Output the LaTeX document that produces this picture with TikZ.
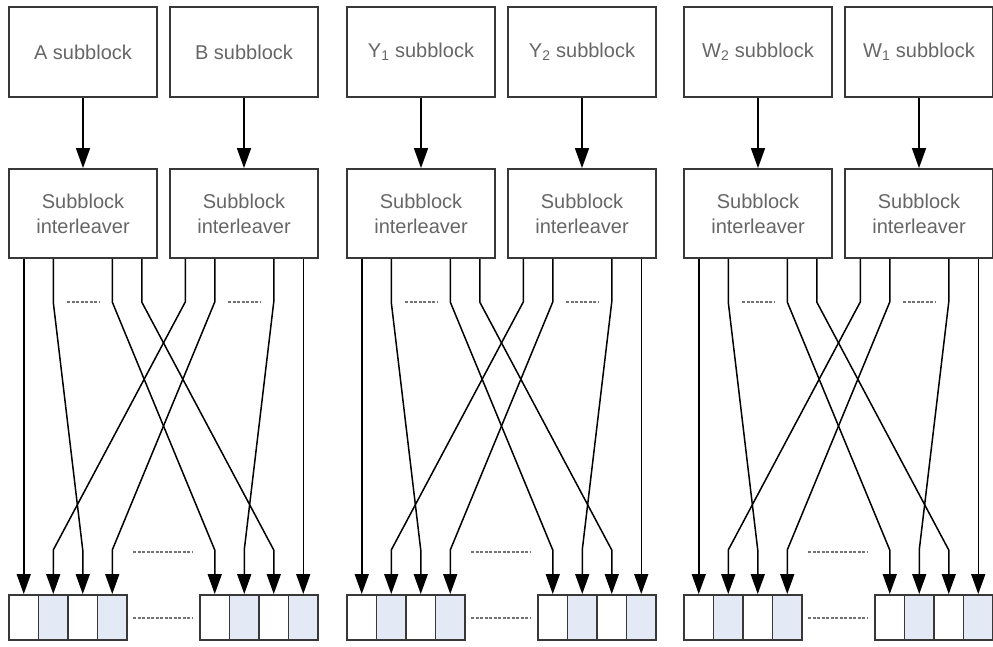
\documentclass[tikz,border=0pt]{standalone}
\usepackage{fontspec}
\setmainfont{Liberation Sans}
\usetikzlibrary{arrows.meta}
\definecolor{cellblue}{HTML}{E4EAF5}
\newcommand\labelfont{\fontsize{20}{25}\selectfont}
\begin{document}
\begin{tikzpicture}[x=1pt, y=-1pt,
		blockbox/.style={draw=black!78, line width=1.8pt, minimum width=148pt, minimum height=90pt, inner sep=0pt, align=center, text=black!60, font=\labelfont},
		cellbox/.style={draw=black!78, line width=1.9pt, minimum width=29.5pt, minimum height=45pt, inner sep=0pt},
		cellshade/.style={cellbox, fill=cellblue},
		link/.style={line width=1.5pt, -{Triangle[width=14pt,length=20pt]}},
		gap/.style={draw=black!55, line width=1.5pt, dash pattern=on 3pt off 1.5pt}]
		%%%%% START %%%%%
		
		\useasboundingbox (0,0) rectangle (993,646);
		
		\foreach \g/\dx/\la/\lb in {1/0/A/B, 2/338/Y\textsubscript{1}/Y\textsubscript{2}, 3/675/W\textsubscript{2}/W\textsubscript{1}}{
			\begin{scope}[xshift=\dx pt]
				\node[blockbox] (sa\g) at (83,52) {\la\ subblock};
				\node[blockbox] (sb\g) at (244,52) {\lb\ subblock};
				\node[blockbox, minimum height=89pt] (ia\g) at (83,213.5) {Subblock\\interleaver};
				\node[blockbox, minimum height=89pt] (ib\g) at (244,213.5) {Subblock\\interleaver};
				
				\draw[link] (sa\g.south) -- (ia\g.north);
				\draw[link] (sb\g.south) -- (ib\g.north);
				
				% output cells
				\foreach \k/\st in {1/cellbox, 2/cellshade, 3/cellbox, 4/cellshade}
					\node[\st] (cell\g\k) at ({23.75+29.5*(\k-1)},617.5) {};
				\foreach \k/\st in {5/cellbox, 6/cellshade, 7/cellbox, 8/cellshade}
					\node[\st] (cell\g\k) at ({214.75+29.5*(\k-5)},617.5) {};
				
				% interleaver outputs to cells
				\foreach \src/\px/\to in {ia/23.75/1, ia/53.25/3, ia/112.25/5, ia/141.75/7, ib/185.25/2, ib/214.75/4, ib/273.75/6, ib/303.25/8}
					\draw[link] (\px,0 |- \src\g.south) -- (\px,302) -- (cell\g\to |- 0,550) -- (cell\g\to.north);
				
				\draw[gap] (67,302) -- (99,302);
				\draw[gap] (228,302) -- (260,302);
				\draw[gap] (133,552) -- (193,552);
				\draw[gap] (133,618) -- (193,618);
			\end{scope}
		}
		
		%%%%% END %%%%%
\end{tikzpicture}
\end{document}
